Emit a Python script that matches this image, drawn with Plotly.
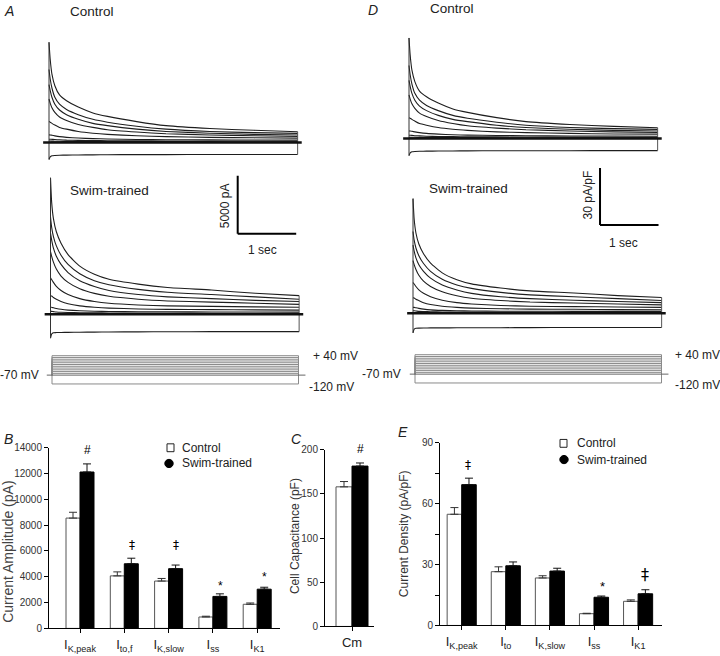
import plotly.graph_objects as go

W, H = 720, 656

# ---------------- data: whole-cell K+ current traces ----------------
T_S = [0, 0.02, 0.05, 0.1, 0.18, 0.3, 0.5, 0.75, 1.0, 1.5, 2.0, 2.75, 3.5, 4.25]
STEPS_MV = [40, 30, 20, 10, 0, -10, -20, -30, -120]
HOLD_CURRENT = 0

# panel A, control (pA), one row per test potential in STEPS_MV
A_CTRL_PA = [
    [8650, 7200, 5900, 4900, 4100, 3600, 3050, 2550, 2250, 1800, 1450, 1200, 1050, 930],
    [6300, 5500, 4700, 3900, 3300, 2850, 2400, 2000, 1750, 1400, 1150, 950, 850, 780],
    [5000, 4500, 3900, 3300, 2800, 2400, 2000, 1650, 1450, 1150, 950, 800, 700, 650],
    [3750, 3400, 3000, 2600, 2200, 1900, 1550, 1300, 1100, 900, 750, 650, 580, 520],
    [1800, 1750, 1650, 1500, 1300, 1150, 950, 800, 700, 580, 500, 440, 400, 370],
    [650, 650, 620, 570, 500, 440, 380, 330, 300, 260, 240, 220, 210, 200],
    [280, 280, 270, 250, 230, 200, 180, 160, 150, 140, 130, 120, 120, 110],
    [120, 120, 115, 110, 100, 95, 90, 85, 80, 75, 70, 70, 65, 65],
    [-1470, -1250, -1150, -1120, -1100, -1090, -1080, -1070, -1060, -1050, -1050, -1040, -1040, -1040],
]
# panel A, swim-trained (pA)
A_SWIM_PA = [
    [11780, 9660, 8250, 7120, 6130, 5140, 4150, 3450, 3020, 2600, 2310, 2090, 1810, 1610],
    [8400, 7500, 6700, 5900, 5100, 4300, 3500, 2900, 2550, 2150, 1900, 1700, 1500, 1300],
    [7000, 6400, 5700, 5000, 4300, 3600, 2900, 2400, 2050, 1700, 1500, 1350, 1200, 1100],
    [5400, 5000, 4500, 3900, 3300, 2750, 2200, 1800, 1550, 1300, 1150, 1050, 950, 850],
    [3150, 3000, 2750, 2400, 2050, 1700, 1350, 1100, 950, 800, 720, 680, 640, 600],
    [1600, 1580, 1450, 1300, 1100, 900, 720, 600, 530, 460, 420, 400, 380, 360],
    [600, 600, 560, 500, 430, 360, 300, 260, 240, 220, 210, 200, 190, 180],
    [250, 250, 230, 200, 170, 150, 130, 120, 110, 100, 100, 90, 90, 90],
    [-2070, -1700, -1600, -1580, -1570, -1560, -1550, -1540, -1530, -1520, -1510, -1500, -1500, -1500],
]
# panel D, control (pA/pF)
D_CTRL_DENS = [
    [53, 44, 36, 30, 25, 22, 18.7, 15.6, 13.8, 11, 8.9, 7.4, 6.4, 5.7],
    [38.5, 33.6, 28.7, 23.8, 20.2, 17.4, 14.7, 12.2, 10.7, 8.6, 7.0, 5.8, 5.2, 4.8],
    [30.6, 27.5, 23.8, 20.2, 17.1, 14.7, 12.2, 10.1, 8.9, 7.0, 5.8, 4.9, 4.3, 4.0],
    [23, 20.8, 18.3, 15.9, 13.4, 11.6, 9.5, 7.9, 6.7, 5.5, 4.6, 4.0, 3.5, 3.2],
    [11, 10.7, 10.1, 9.2, 7.9, 7.0, 5.8, 4.9, 4.3, 3.5, 3.1, 2.7, 2.4, 2.3],
    [4, 4, 3.8, 3.5, 3.1, 2.7, 2.3, 2.0, 1.8, 1.6, 1.5, 1.3, 1.3, 1.2],
    [1.7, 1.7, 1.65, 1.5, 1.4, 1.2, 1.1, 1.0, 0.9, 0.85, 0.8, 0.75, 0.75, 0.7],
    [0.7, 0.7, 0.7, 0.65, 0.6, 0.6, 0.55, 0.5, 0.5, 0.45, 0.45, 0.4, 0.4, 0.4],
    [-9.0, -7.6, -7.0, -6.8, -6.7, -6.65, -6.6, -6.55, -6.5, -6.45, -6.4, -6.4, -6.35, -6.35],
]
# panel D, swim-trained (pA/pF)
D_SWIM_DENS = [
    [60.4, 49.5, 42.3, 36.5, 31.4, 26.4, 21.3, 17.7, 15.5, 13.3, 11.8, 10.7, 9.3, 8.3],
    [43.1, 38.5, 34.4, 30.3, 26.2, 22.1, 17.9, 14.9, 13.1, 11.0, 9.7, 8.7, 7.7, 6.7],
    [35.9, 32.8, 29.2, 25.6, 22.1, 18.5, 14.9, 12.3, 10.5, 8.7, 7.7, 6.9, 6.2, 5.6],
    [27.7, 25.6, 23.1, 20.0, 16.9, 14.1, 11.3, 9.2, 7.9, 6.7, 5.9, 5.4, 4.9, 4.4],
    [16.2, 15.4, 14.1, 12.3, 10.5, 8.7, 6.9, 5.6, 4.9, 4.1, 3.7, 3.5, 3.3, 3.1],
    [8.2, 8.1, 7.4, 6.7, 5.6, 4.6, 3.7, 3.1, 2.7, 2.4, 2.2, 2.1, 1.9, 1.8],
    [3.1, 3.1, 2.9, 2.6, 2.2, 1.8, 1.5, 1.3, 1.2, 1.1, 1.1, 1.0, 1.0, 0.9],
    [1.3, 1.3, 1.2, 1.0, 0.9, 0.8, 0.7, 0.6, 0.6, 0.5, 0.5, 0.5, 0.5, 0.5],
    [-10.3, -8.3, -7.9, -7.8, -7.75, -7.7, -7.7, -7.65, -7.6, -7.6, -7.55, -7.5, -7.5, -7.5],
]

# voltage protocol (mV)
HOLD_MV = -70
PROTOCOL_MV = [-120, -60, -50, -40, -30, -20, -10, 0, 10, 20, 30, 40]

# scale bars
SCALE_PA = 5000
SCALE_DENS = 30
SCALE_S = 1

# ---------------- data: bar charts ----------------
B_CATS = ["I<sub>K,peak</sub>", "I<sub>to,f</sub>", "I<sub>K,slow</sub>", "I<sub>ss</sub>", "I<sub>K1</sub>"]
B_CTRL = [8550, 4070, 3670, 885, 1870]
B_CTRL_ERR = [450, 310, 200, 60, 100]
B_SWIM = [12120, 5010, 4630, 2480, 3040]
B_SWIM_ERR = [630, 430, 280, 200, 150]
B_SIG = ["#", "‡", "‡", "*", "*"]
B_TICKS = [0, 2000, 4000, 6000, 8000, 10000, 12000, 14000]

C_CATS = ["Cm"]
C_CTRL = [158]
C_CTRL_ERR = [6]
C_SWIM = [181.5]
C_SWIM_ERR = [3.5]
C_SIG = ["#"]
C_TICKS = [0, 50, 100, 150, 200]

E_CATS = ["I<sub>K,peak</sub>", "I<sub>to</sub>", "I<sub>K,slow</sub>", "I<sub>ss</sub>", "I<sub>K1</sub>"]
E_CTRL = [54.8, 26.5, 23.4, 5.8, 11.9]
E_CTRL_ERR = [3.3, 2.4, 1.1, 0.2, 0.7]
E_SWIM = [69.4, 29.4, 26.8, 13.9, 15.6]
E_SWIM_ERR = [3.2, 1.9, 1.4, 0.6, 2.0]
E_SIG = ["‡", "", "", "*", "‡"]
E_TICKS = [0, 30, 60, 90]
E_MINOR_STEP = 15

# ---------------- helpers (pixel layout) ----------------
FONT = "Arial, Liberation Sans, Helvetica, sans-serif"


def xdom(a, b):
    return [a / W, b / W]


def ydom(top, bottom):
    return [1 - bottom / H, 1 - top / H]


def xr(a, b, o, s):
    return [(a - o) / s, (b - o) / s]


def yr(top, bottom, o, s, base=0):
    return [base + (o - bottom) / s, base + (o - top) / s]


def px(x):
    return x / W


def py(y):
    return 1 - y / H


fig = go.Figure()
layout = dict(
    width=W, height=H, margin=dict(l=0, r=0, t=0, b=0),
    paper_bgcolor="white", plot_bgcolor="rgba(0,0,0,0)",
    showlegend=False, barmode="overlay",
    font=dict(family=FONT, color="#222"),
)


def hidden_axes(n, xd, yd, xrange, yrange):
    sx = "" if n == 1 else str(n)
    layout["xaxis" + sx] = dict(domain=xd, range=xrange, visible=False, fixedrange=True,
                                anchor="y" + sx)
    layout["yaxis" + sx] = dict(domain=yd, range=yrange, visible=False, fixedrange=True,
                                anchor="x" + sx)
    return "x" + sx, "y" + sx


T_END = T_S[-1]
PX_PER_S = 58.5

# trace panels: (rows, x origin px, baseline px, px per unit, x-domain px, y-domain px)
panels = [
    (A_CTRL_PA, 49, 139, 59 / SCALE_PA, (35, 312), (18, 165)),
    (A_SWIM_PA, 50.5, 314, 59 / SCALE_PA, (35, 312), (165, 342)),
    (D_CTRL_DENS, 409, 135, 58 / SCALE_DENS, (395, 672), (18, 160)),
    (D_SWIM_DENS, 413, 313, 58 / SCALE_DENS, (395, 672), (160, 342)),
]
axes_ids = []
for i, (rows, ox, oy, s, xd_px, yd_px) in enumerate(panels, start=1):
    xa, ya = hidden_axes(i, xdom(*xd_px), ydom(*yd_px),
                         xr(xd_px[0], xd_px[1], ox, PX_PER_S), yr(yd_px[0], yd_px[1], oy, s))
    axes_ids.append((xa, ya))
    for row in rows:
        fig.add_trace(go.Scatter(x=T_S, y=row, mode="lines",
                                 line=dict(color="#1e1e1e", width=1.1, shape="spline", smoothing=0.5),
                                 xaxis=xa, yaxis=ya, hoverinfo="skip"))
    starts = [r[0] for r in rows]
    ends = [r[-1] for r in rows]
    fig.add_trace(go.Scatter(x=[T_S[0], T_S[0]], y=[min(starts), max(starts)], mode="lines",
                             line=dict(color="#333", width=1), xaxis=xa, yaxis=ya, hoverinfo="skip"))
    fig.add_trace(go.Scatter(x=[T_END, T_END], y=[min(ends), max(ends)], mode="lines",
                             line=dict(color="#555", width=1), xaxis=xa, yaxis=ya, hoverinfo="skip"))
    # holding (zero-current) line, thick
    fig.add_trace(go.Scatter(x=[T_S[0] - 0.1, T_END + 0.07], y=[HOLD_CURRENT, HOLD_CURRENT],
                             mode="lines", line=dict(color="#111", width=2.6),
                             xaxis=xa, yaxis=ya, hoverinfo="skip"))

# voltage protocol panels
MV_PX = 0.18
for n, (ox, oy, xd_px) in zip((5, 6), [(52, 376, (40, 312)), (415, 375, (400, 672))]):
    xa, ya = hidden_axes(n, xdom(*xd_px), ydom(345, 395),
                         xr(xd_px[0], xd_px[1], ox, 58), yr(345, 395, oy, MV_PX, base=HOLD_MV))
    for v in PROTOCOL_MV:
        fig.add_trace(go.Scatter(x=[0, 0, T_END, T_END], y=[HOLD_MV, v, v, HOLD_MV], mode="lines",
                                 line=dict(color="#8a8a8a", width=1), xaxis=xa, yaxis=ya,
                                 hoverinfo="skip"))
    fig.add_trace(go.Scatter(x=[-0.09, T_END + 0.12], y=[HOLD_MV, HOLD_MV], mode="lines",
                             line=dict(color="#666", width=1), xaxis=xa, yaxis=ya, hoverinfo="skip"))


# ---------------- bar charts ----------------
def bar_panel(n, cats, ctrl, ctrl_err, swim, swim_err, w, xd_px, ox, sx, yd_px, yrange,
              tickvals, minor_step=None):
    s = str(n)
    pos = list(range(len(cats)))
    common = dict(x=pos, width=w, xaxis="x" + s, yaxis="y" + s, hoverinfo="skip")
    fig.add_trace(go.Bar(y=ctrl, offset=-w, marker=dict(color="white", line=dict(color="#555", width=1)),
                         error_y=dict(type="data", symmetric=False, array=ctrl_err,
                                      arrayminus=[0] * len(ctrl), color="#333", thickness=1, width=4),
                         **common))
    fig.add_trace(go.Bar(y=swim, offset=0, marker=dict(color="black", line=dict(color="black", width=1)),
                         error_y=dict(type="data", symmetric=False, array=swim_err,
                                      arrayminus=[0] * len(swim), color="#111", thickness=1, width=4),
                         **common))
    layout["xaxis" + s] = dict(domain=xdom(*xd_px), range=xr(xd_px[0], xd_px[1], ox, sx),
                               anchor="y" + s, showline=True, linecolor="black", linewidth=1,
                               ticks="outside", ticklen=4, tickcolor="black",
                               tickvals=pos, ticktext=cats, showgrid=False, zeroline=False,
                               tickfont=dict(size=13, color="#222"), fixedrange=True)
    ya = dict(domain=ydom(*yd_px), range=yrange, anchor="x" + s,
              showline=True, linecolor="black", linewidth=1,
              ticks="outside", ticklen=4, tickcolor="black",
              tickvals=tickvals, ticktext=[str(t) for t in tickvals],
              showgrid=False, zeroline=False,
              tickfont=dict(size=10, color="#333"), fixedrange=True)
    if minor_step:
        ya["minor"] = dict(dtick=minor_step, tick0=0, ticks="outside", ticklen=4,
                           tickcolor="black", showgrid=False)
    layout["yaxis" + s] = ya


bar_panel(7, B_CATS, B_CTRL, B_CTRL_ERR, B_SWIM, B_SWIM_ERR, 0.316, (49, 280), 80, 44.3,
          (450, 634), [B_TICKS[0], B_TICKS[-1]], B_TICKS)
bar_panel(8, C_CATS, C_CTRL, C_CTRL_ERR, C_SWIM, C_SWIM_ERR, 0.32, (325, 374), 352, 50,
          (452, 632), [C_TICKS[0], C_TICKS[-1]], C_TICKS)
bar_panel(9, E_CATS, E_CTRL, E_CTRL_ERR, E_SWIM, E_SWIM_ERR, 0.33, (440, 662), 461.7, 44.1,
          (445, 631), [E_TICKS[0], E_TICKS[-1]], E_TICKS, E_MINOR_STEP)

# ---------------- annotations ----------------
ann = []


def txt(x, y, t, size=13, angle=0, xanchor="center", italic=False, color="#222", family=FONT):
    ann.append(dict(x=px(x), y=py(y), xref="paper", yref="paper", text=("<i>%s</i>" % t) if italic else t,
                    showarrow=False, xanchor=xanchor, yanchor="middle", textangle=angle,
                    font=dict(size=size, family=family, color=color)))


txt(2, 5, "A", 14, xanchor="left", italic=True)
txt(68, 6, "Control", 13.5, xanchor="left")
txt(68, 188, "Swim-trained", 13.5, xanchor="left")
txt(366, 4, "D", 14, xanchor="left", italic=True)
txt(428, 3, "Control", 13.5, xanchor="left")
txt(427, 186, "Swim-trained", 13.5, xanchor="left")
txt(225, 204, "%d pA" % SCALE_PA, 12, angle=-90)
txt(262, 249, "%d sec" % SCALE_S, 12)
txt(588, 193, "%d pA/pF" % SCALE_DENS, 12, angle=-90)
txt(623, 241, "%d sec" % SCALE_S, 12)
txt(41, 376, "%d mV" % HOLD_MV, 12, xanchor="right")
txt(311, 357, "+ %d mV" % PROTOCOL_MV[-1], 12, xanchor="left")
txt(307, 388, "%d mV" % PROTOCOL_MV[0], 12, xanchor="left")
txt(403, 375, "%d mV" % HOLD_MV, 12, xanchor="right")
txt(673, 355, "+ %d mV" % PROTOCOL_MV[-1], 12, xanchor="left")
txt(673, 386, "%d mV" % PROTOCOL_MV[0], 12, xanchor="left")

txt(2, 441, "B", 14, xanchor="left", italic=True)
txt(289, 441, "C", 14, xanchor="left", italic=True)
txt(396, 434, "E", 14, xanchor="left", italic=True)
txt(8, 556, "Current Amplitude (pA)", 14, angle=-90, color="#444")
txt(295, 540, "Cell Capacitance (pF)", 12, angle=-90, color="#333")
txt(404, 538, "Current Density (pA/pF)", 12, angle=-90, color="#333")

# significance marks (pixel positions of the symbols)
SYM_FONT = "DejaVu Sans, Arial, sans-serif"
for lab, (x, y) in zip(B_SIG, [(87, 452), (132, 549), (176, 549), (220, 591), (264, 582)]):
    txt(x, y, lab, 12, color="black", family=SYM_FONT if lab == "‡" else FONT)
for lab, (x, y) in zip(C_SIG, [(360, 451)]):
    txt(x, y, lab, 12, color="black")
for lab, (x, y), sz in zip(E_SIG, [(468, 468), (0, 0), (0, 0), (602, 591), (645, 579)],
                           [12, 12, 12, 13, 16]):
    if lab:
        txt(x, y, lab, sz, color="black", family=SYM_FONT if lab == "‡" else FONT)

# legends (drawn)
shapes = []
for (sqx, sqy, cx, cy, tx) in [(170.5, 450, 169, 466, 180), (563.5, 445.5, 564, 462, 575)]:
    shapes.append(dict(type="rect", xref="paper", yref="paper", x0=px(sqx - 3.5), x1=px(sqx + 3.5),
                       y0=py(sqy + 4), y1=py(sqy - 4), line=dict(color="#222", width=1),
                       fillcolor="white"))
    shapes.append(dict(type="circle", xref="paper", yref="paper", x0=px(cx - 4.2), x1=px(cx + 4.2),
                       y0=py(cy + 4.2), y1=py(cy - 4.2), line=dict(color="black", width=1),
                       fillcolor="black"))
    txt(tx, sqy, "Control", 12, xanchor="left")
    txt(tx, cy, "Swim-trained", 12, xanchor="left")

# scale bars (in data units of the swim-trained trace axes)
for (xa, ya), t0, y0, amp in [(axes_ids[1], 3.2, 6950, SCALE_PA), (axes_ids[3], 3.197, 46.55, SCALE_DENS)]:
    shapes.append(dict(type="line", xref=xa, yref=ya, x0=t0, x1=t0, y0=y0, y1=y0 + amp,
                       line=dict(color="black", width=2)))
    shapes.append(dict(type="line", xref=xa, yref=ya, x0=t0, x1=t0 + SCALE_S, y0=y0, y1=y0,
                       line=dict(color="black", width=2)))

layout["annotations"] = ann
layout["shapes"] = shapes
fig.update_layout(**layout)
fig.write_html("out.html", config={"displayModeBar": False},
               post_script="document.body.style.margin='0px';")
